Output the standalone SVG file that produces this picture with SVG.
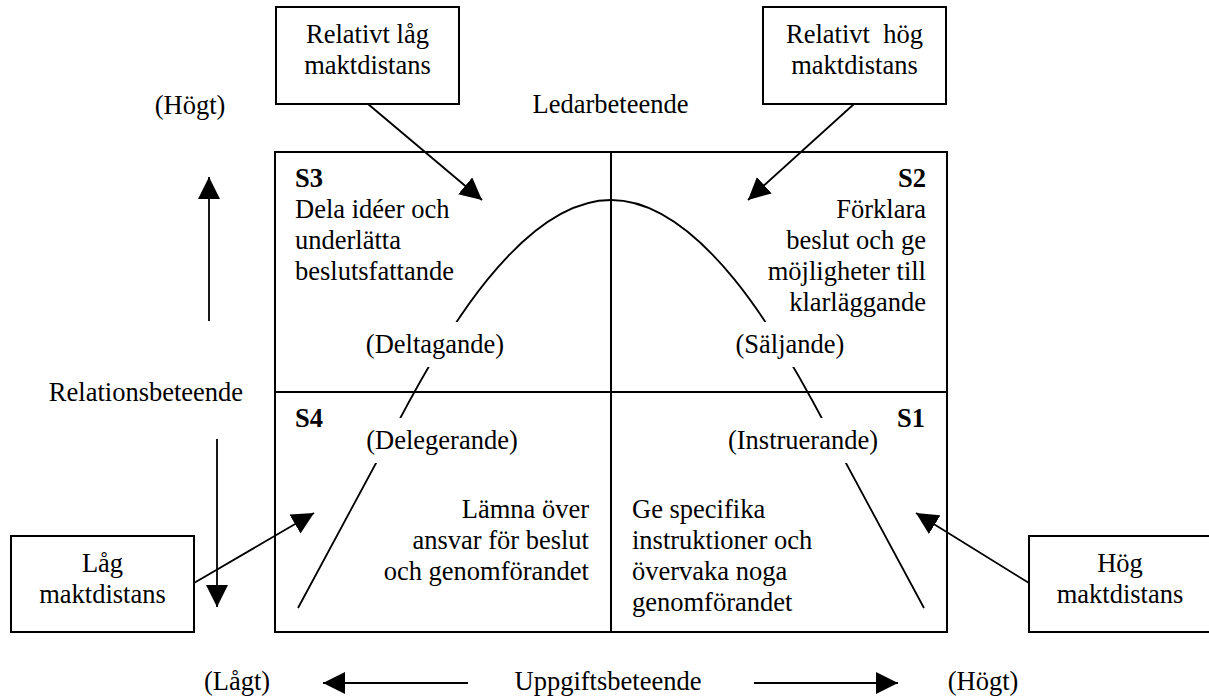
<svg xmlns="http://www.w3.org/2000/svg" width="1209" height="696" viewBox="0 0 1209 696">
<style>
text{font-family:"Liberation Serif","Times New Roman",serif;font-size:26.5px;fill:#000}
.b{font-weight:bold}
.m{text-anchor:middle}
.e{text-anchor:end}
.box{fill:#fff;stroke:#000;stroke-width:2}
.ln{fill:none;stroke:#000;stroke-width:2}
.cv{fill:none;stroke:#000;stroke-width:1.8}
.bg{fill:#fff;stroke:none}
</style>
<defs>
<marker id="ah" markerUnits="userSpaceOnUse" markerWidth="22" markerHeight="22" refX="20" refY="10" orient="auto" viewBox="0 0 20 20">
<path d="M0,0 L20,10 L0,20 z" fill="#000"/>
</marker>
</defs>
<rect width="1209" height="696" fill="#fff"/>

<g id="grid">
<rect class="ln" x="275" y="152" width="672" height="480"/>
<line class="ln" x1="611" y1="152" x2="611" y2="632"/>
<line class="ln" x1="275" y1="392" x2="947" y2="392"/>
</g>

<g id="curve">
<path class="cv" d="M298 608 L410 400 C440 345 520 200 611 200 C702 200 782 345 812 400 L924 608"/>
</g>

<g id="q-s3">
<text class="b" x="295" y="187">S3</text>
<text x="295" y="218">Dela idéer och</text>
<text x="295" y="249">underlätta</text>
<text x="295" y="280">beslutsfattande</text>
<rect class="bg" x="364" y="322" width="144" height="45"/>
<text class="m" x="435" y="353">(Deltagande)</text>
</g>

<g id="q-s2">
<text class="b e" x="926" y="187">S2</text>
<text class="e" x="926" y="218">Förklara</text>
<text class="e" x="926" y="249">beslut och ge</text>
<text class="e" x="926" y="280">möjligheter till</text>
<text class="e" x="926" y="311">klarläggande</text>
<rect class="bg" x="733" y="322" width="116" height="45"/>
<text class="m" x="790" y="353">(Säljande)</text>
</g>

<g id="q-s4">
<text class="b" x="295" y="427">S4</text>
<rect class="bg" x="364" y="418" width="157" height="45"/>
<text class="m" x="442" y="449">(Delegerande)</text>
<text class="e" x="589" y="518">Lämna över</text>
<text class="e" x="589" y="549">ansvar för beslut</text>
<text class="e" x="589" y="580">och genomförandet</text>
</g>

<g id="q-s1">
<text class="b e" x="925" y="427">S1</text>
<rect class="bg" x="724" y="418" width="158" height="45"/>
<text class="m" x="803" y="449">(Instruerande)</text>
<text x="632" y="518">Ge specifika</text>
<text x="632" y="549">instruktioner och</text>
<text x="632" y="580">övervaka noga</text>
<text x="632" y="611">genomförandet</text>
</g>

<g id="box-rel-lag">
<rect class="box" x="276" y="7" width="183" height="97"/>
<text class="m" x="367.5" y="43">Relativt låg</text>
<text class="m" x="367.5" y="74">maktdistans</text>
</g>

<g id="box-rel-hog">
<rect class="box" x="763" y="7" width="183" height="97"/>
<text class="m" x="854.5" y="43" xml:space="preserve">Relativt  hög</text>
<text class="m" x="854.5" y="74">maktdistans</text>
</g>

<g id="box-lag">
<rect class="box" x="11" y="536" width="183" height="96"/>
<text class="m" x="102.5" y="572">Låg</text>
<text class="m" x="102.5" y="603">maktdistans</text>
</g>

<g id="box-hog">
<rect class="box" x="1029" y="536" width="183" height="96"/>
<text class="m" x="1120" y="572">Hög</text>
<text class="m" x="1120" y="603">maktdistans</text>
</g>

<g id="labels">
<text class="m" x="190" y="114">(Högt)</text>
<text class="m" x="610.5" y="113">Ledarbeteende</text>
<text class="m" x="146" y="401">Relationsbeteende</text>
<text class="m" x="237" y="690">(Lågt)</text>
<text class="m" x="608" y="690">Uppgiftsbeteende</text>
<text class="m" x="983" y="690">(Högt)</text>
</g>

<g id="connectors" stroke="#000" stroke-width="1.8" fill="none">
<line x1="368" y1="104" x2="482" y2="200" marker-end="url(#ah)"/>
<line x1="854" y1="104" x2="748" y2="200" marker-end="url(#ah)"/>
<line x1="194" y1="583" x2="314" y2="513" marker-end="url(#ah)"/>
<line x1="1029" y1="583" x2="916" y2="513" marker-end="url(#ah)"/>
<line x1="209" y1="321" x2="209" y2="177" marker-end="url(#ah)"/>
<line x1="217" y1="439" x2="217" y2="607" marker-end="url(#ah)"/>
<line x1="468" y1="683" x2="323" y2="683" marker-end="url(#ah)"/>
<line x1="754" y1="683" x2="898" y2="683" marker-end="url(#ah)"/>
</g>
</svg>
